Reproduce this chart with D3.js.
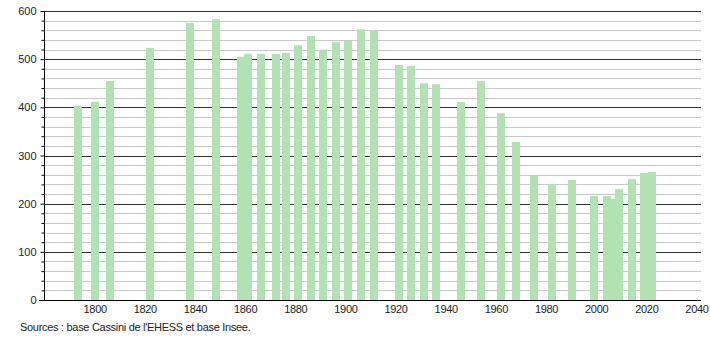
<!DOCTYPE html>
<html>
<head>
<meta charset="utf-8">
<script src="https://cdn.jsdelivr.net/npm/d3@7"></script>
<style>
  body { margin: 0; background: #fff; }
  text { font-family: "Liberation Sans", Arial, sans-serif; fill: #222; }
</style>
</head>
<body>
<svg width="710" height="340"></svg>
<script>
// census years and population
var years = [1793, 1800, 1806, 1822, 1838, 1848, 1858, 1861, 1866, 1872, 1876, 1881,
             1886, 1891, 1896, 1901, 1906, 1911, 1921, 1926, 1931, 1936, 1946, 1954,
             1962, 1968, 1975, 1982, 1990, 1999, 2004, 2007, 2009, 2014, 2019, 2022];
var population = [403, 411, 455, 523, 575, 583, 505, 511, 511, 511, 513, 529,
                  548, 520, 536, 538, 562, 559, 488, 486, 450, 448, 411, 455,
                  388, 328, 258, 241, 249, 216, 216, 210, 230, 251, 264, 266];
var xTicks = [1800, 1820, 1840, 1860, 1880, 1900, 1920, 1940, 1960, 1980, 2000, 2020, 2040];
var yTicks = [0, 100, 200, 300, 400, 500, 600];
var source = "Sources : base Cassini de l'EHESS et base Insee.";

var svg = d3.select("svg");
var plotLeft = 44, plotRight = 701, plotTop = 11, plotBottom = 300;

var x = d3.scaleLinear().domain([1779.6, 2041.6]).range([plotLeft, plotRight]);
var y = d3.scaleLinear().domain([0, 600]).range([plotBottom, plotTop]);

// grid lines, light every 20, dark every 100
var minor = d3.range(20, 600, 20).filter(function(v) { return v % 100 != 0; });
svg.append("g").selectAll("line")
  .data(minor)
  .enter().append("line")
    .attr("x1", plotLeft).attr("x2", plotRight)
    .attr("y1", function(d) { return Math.round(y(d)) + 0.5; })
    .attr("y2", function(d) { return Math.round(y(d)) + 0.5; })
    .attr("stroke", "#c8c8c8");
svg.append("g").selectAll("line")
  .data(yTicks.slice(1))
  .enter().append("line")
    .attr("x1", plotLeft).attr("x2", plotRight)
    .attr("y1", function(d) { return Math.round(y(d)) + 0.5; })
    .attr("y2", function(d) { return Math.round(y(d)) + 0.5; })
    .attr("stroke", "#333");

// bars
svg.append("g").selectAll("rect")
  .data(years)
  .enter().append("rect")
    .attr("x", function(d) { return Math.round(x(d) - 4); })
    .attr("width", 8)
    .attr("y", function(d, i) { return y(population[i]); })
    .attr("height", function(d, i) { return plotBottom - y(population[i]); })
    .attr("fill", "#b1e2b1");

// y axis with minor ticks
var yAxis = d3.axisLeft(y)
  .tickValues(d3.range(0, 620, 20))
  .tickSize(3)
  .tickPadding(3)
  .tickFormat(function(d) { return yTicks.indexOf(d) >= 0 ? d : ""; });
var ga = svg.append("g")
  .attr("transform", "translate(" + (plotLeft + 0.5) + ",0)")
  .call(yAxis);
ga.select(".domain").attr("d", "M0," + plotTop + "V" + plotBottom).attr("stroke", "#000");
ga.selectAll(".tick line").attr("stroke", "#000");
ga.selectAll(".tick").filter(function(d) { return yTicks.indexOf(d) >= 0; })
  .select("line").attr("x2", -4);
ga.selectAll("text").style("font-size", "11px").attr("x", -8);

// x axis baseline and labels
svg.append("line")
  .attr("x1", plotLeft - 5).attr("x2", plotRight)
  .attr("y1", plotBottom + 0.5).attr("y2", plotBottom + 0.5)
  .attr("stroke", "#000");
svg.append("g").selectAll("text")
  .data(xTicks)
  .enter().append("text")
    .attr("x", function(d) { return x(d); })
    .attr("y", plotBottom + 13)
    .attr("text-anchor", "middle")
    .style("font-size", "11px")
    .style("letter-spacing", "-0.3px")
    .text(function(d) { return d; });

svg.append("text")
  .attr("x", 20)
  .attr("y", 331)
  .style("font-size", "11px")
  .style("letter-spacing", "-0.3px")
  .text(source);
</script>
</body>
</html>
